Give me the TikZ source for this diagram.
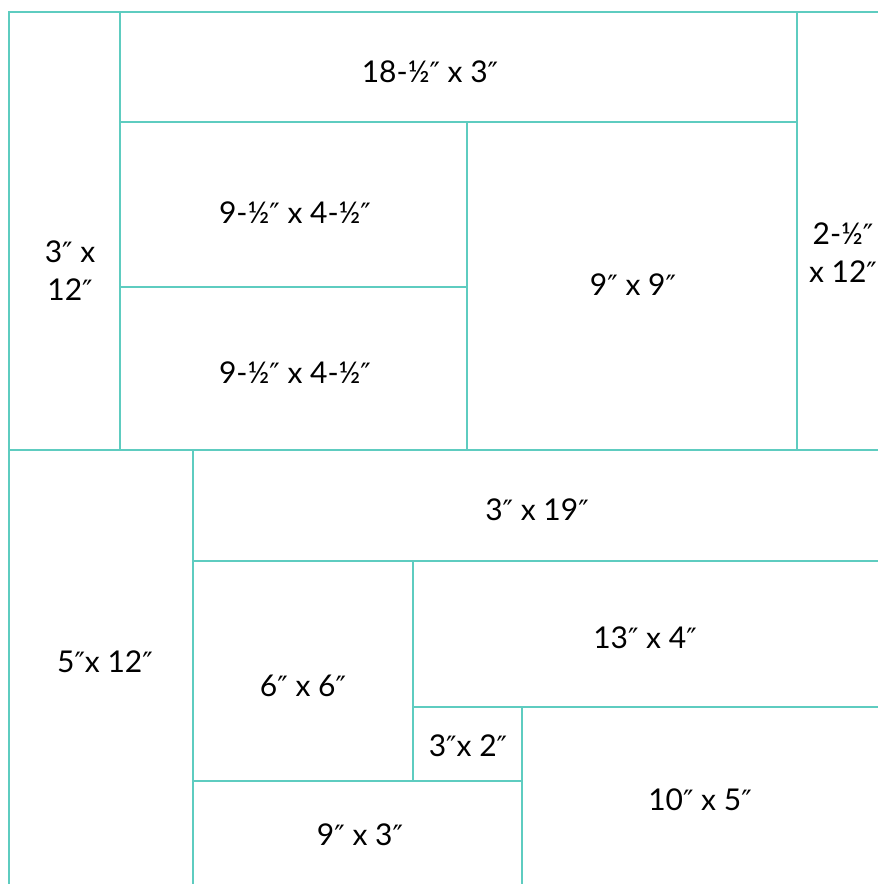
\documentclass[tikz,border=0pt]{standalone}
\usepackage{fontspec}
\setmainfont{Lato}
\newfontfamily\primefont{DejaVu Sans}
\usepackage{xcolor}
\definecolor{seam}{RGB}{94,204,192}
\newcommand{\inch}{{\primefont\fontsize{28}{28}\selectfont ″}}

\begin{document}
\begin{tikzpicture}[
    x=1pt, y=-1pt,
    piece/.style={draw=seam, line width=2pt},
    lbl/.style={font=\fontsize{30}{38}\selectfont, align=center, inner sep=0pt}
]
\useasboundingbox (0,0) rectangle (878,884);
\clip (0,0) rectangle (878,884);
% upper block
\draw[piece] (9,12) rectangle (120,450);
\draw[piece] (120,12) rectangle (797,122);
\draw[piece] (120,122) rectangle (467,287);
\draw[piece] (120,287) rectangle (467,450);
\draw[piece] (467,122) rectangle (797,450);
\draw[piece] (797,12) rectangle (895,450);
% lower block
\draw[piece] (9,450) rectangle (193,900);
\draw[piece] (193,450) rectangle (895,561);
\draw[piece] (193,561) rectangle (413,781);
\draw[piece] (413,561) rectangle (895,707);
\draw[piece] (413,707) rectangle (522,781);
\draw[piece] (193,781) rectangle (522,900);
\draw[piece] (522,707) rectangle (895,900);
% labels
\node[lbl] (top) at (430,72) {18-½\inch\ x 3\inch};
\node[lbl] (upA) at (295,213) {9-½\inch\ x 4-½\inch};
\node[lbl] (upB) at (295,373) {9-½\inch\ x 4-½\inch};
\node[lbl] (sq) at (633,285) {9\inch\ x 9\inch};
\node[lbl] (left) at (70,271) {3\inch\ x\\12\inch};
\node[lbl] (right) at (843,253) {2-½\inch\\x 12\inch};
\node[lbl] (band) at (537,510) {3\inch\ x 19\inch};
\node[lbl] (side) at (105,662) {5\inch x 12\inch};
\node[lbl] (wide) at (645,638) {13\inch\ x 4\inch};
\node[lbl] (six) at (303,686) {6\inch\ x 6\inch};
\node[lbl] (small) at (468,746) {3\inch x 2\inch};
\node[lbl] (ten) at (700,800) {10\inch\ x 5\inch};
\node[lbl] (base) at (360,835) {9\inch\ x 3\inch};
\end{tikzpicture}
\end{document}
